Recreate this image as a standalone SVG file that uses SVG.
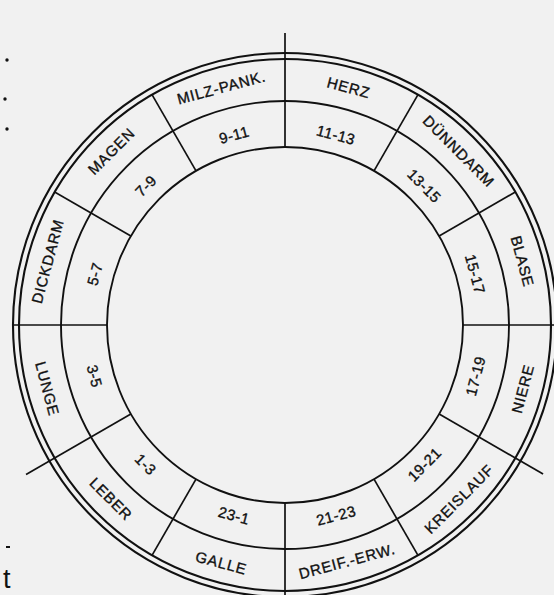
<svg xmlns="http://www.w3.org/2000/svg" width="554" height="595" viewBox="0 0 554 595">
<style>
.ring{fill:none;stroke:#111;stroke-width:1.9}
.outer{fill:none;stroke:#111;stroke-width:2.1}
.spoke{stroke:#111;stroke-width:1.7}
.lbl{font-family:"Liberation Sans",Arial,sans-serif;font-size:15px;letter-spacing:0.8px;fill:#111;stroke:#111;stroke-width:0.35;text-anchor:middle;dominant-baseline:central}
.num{font-family:"Liberation Sans",Arial,sans-serif;font-size:15px;letter-spacing:0.4px;fill:#111;stroke:#111;stroke-width:0.35;text-anchor:middle;dominant-baseline:central}
</style>
<rect width="554" height="595" fill="#f1f1f1"/>
<g id="rings">
<circle cx="285" cy="325" r="272" class="outer"/>
<circle cx="285" cy="325" r="266" class="outer"/>
<circle cx="285" cy="325" r="224" class="ring"/>
<circle cx="285" cy="325" r="178" class="ring"/>
</g>
<g id="connectors" transform="translate(285 325)">
<line class="spoke" x1="0" y1="-178" x2="0" y2="-292" transform="rotate(0)"/>
<line class="spoke" x1="0" y1="-178" x2="0" y2="-266" transform="rotate(30)"/>
<line class="spoke" x1="0" y1="-178" x2="0" y2="-266" transform="rotate(60)"/>
<line class="spoke" x1="0" y1="-178" x2="0" y2="-275" transform="rotate(90)"/>
<line class="spoke" x1="0" y1="-178" x2="0" y2="-298" transform="rotate(120)"/>
<line class="spoke" x1="0" y1="-178" x2="0" y2="-266" transform="rotate(150)"/>
<line class="spoke" x1="0" y1="-178" x2="0" y2="-275" transform="rotate(180)"/>
<line class="spoke" x1="0" y1="-178" x2="0" y2="-266" transform="rotate(210)"/>
<line class="spoke" x1="0" y1="-178" x2="0" y2="-299" transform="rotate(240)"/>
<line class="spoke" x1="0" y1="-178" x2="0" y2="-272" transform="rotate(270)"/>
<line class="spoke" x1="0" y1="-178" x2="0" y2="-266" transform="rotate(300)"/>
<line class="spoke" x1="0" y1="-178" x2="0" y2="-266" transform="rotate(330)"/>
</g>
<g id="herz"><text class="lbl" transform="translate(348.7 87.4) rotate(15)">HERZ</text><text class="num" transform="translate(336 134.7) rotate(15)">11-13</text></g>
<g id="duenndarm"><text class="lbl" transform="translate(458.9 151.1) rotate(45)">DÜNNDARM</text><text class="num" transform="translate(424.3 185.7) rotate(45)">13-15</text></g>
<g id="blase"><text class="lbl" transform="translate(522.6 261.3) rotate(75)">BLASE</text><text class="num" transform="translate(475.3 274) rotate(75)">15-17</text></g>
<g id="niere"><text class="lbl" transform="translate(522.6 388.7) rotate(-75)">NIERE</text><text class="num" transform="translate(475.3 376) rotate(-75)">17-19</text></g>
<g id="kreislauf"><text class="lbl" transform="translate(458.9 498.9) rotate(-45)">KREISLAUF</text><text class="num" transform="translate(424.3 464.3) rotate(-45)">19-21</text></g>
<g id="dreif-erw"><text class="lbl" transform="translate(347 561) rotate(-15)">DREIF.-ERW.</text><text class="num" transform="translate(336 515.3) rotate(-15)">21-23</text></g>
<g id="galle"><text class="lbl" transform="translate(221.3 562.6) rotate(15)">GALLE</text><text class="num" transform="translate(234 515.3) rotate(15)">23-1</text></g>
<g id="leber"><text class="lbl" transform="translate(111.1 498.9) rotate(45)">LEBER</text><text class="num" transform="translate(145.7 464.3) rotate(45)">1-3</text></g>
<g id="lunge"><text class="lbl" transform="translate(47.4 388.7) rotate(75)">LUNGE</text><text class="num" transform="translate(94.7 376) rotate(75)">3-5</text></g>
<g id="dickdarm"><text class="lbl" transform="translate(47.4 261.3) rotate(-75)">DICKDARM</text><text class="num" transform="translate(94.7 274) rotate(-75)">5-7</text></g>
<g id="magen"><text class="lbl" transform="translate(111.1 151.1) rotate(-45)">MAGEN</text><text class="num" transform="translate(145.7 185.7) rotate(-45)">7-9</text></g>
<g id="milz-pank"><text class="lbl" transform="translate(221.3 87.4) rotate(-15)">MILZ-PANK.</text><text class="num" transform="translate(234 134.7) rotate(-15)">9-11</text></g>
<g id="margin">
<circle cx="7" cy="60" r="1.7" fill="#111"/>
<circle cx="5" cy="99" r="1.7" fill="#111"/>
<circle cx="7" cy="129" r="1.7" fill="#111"/>
<rect x="6" y="546" width="4" height="2" fill="#111"/>
<text x="3" y="588" font-family="'Liberation Sans',Arial,sans-serif" font-size="27" fill="#111">t</text>
</g>
</svg>
